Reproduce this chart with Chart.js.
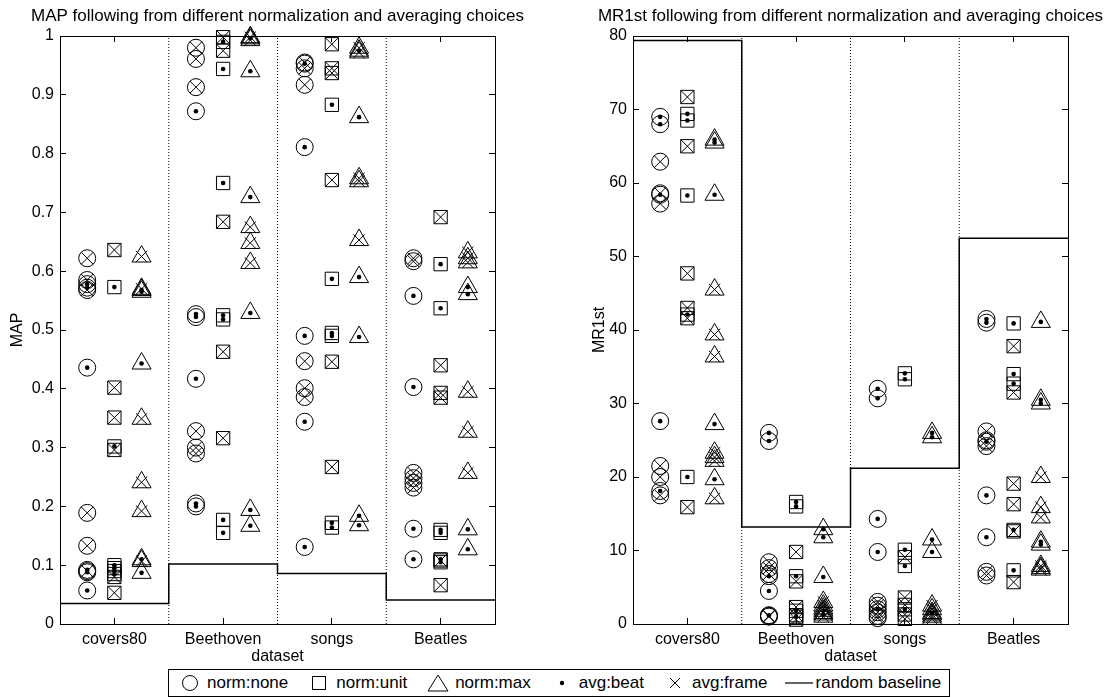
<!DOCTYPE html>
<html>
<head>
<meta charset="utf-8">
<script src="https://cdn.jsdelivr.net/npm/chart.js@4.4.0/dist/chart.umd.min.js"></script>
<style>
  html, body { margin: 0; width: 1109px; height: 697px; overflow: hidden; background: #fff;
         font-family: "Liberation Sans", Arial, sans-serif; }
  #left  { position: absolute; left: 0;     top: 0; width: 555px; height: 668px; }
  #right { position: absolute; left: 555px; top: 0; width: 591px; height: 668px; }
  #legend { position: absolute; left: 168px; top: 669px; border: 1px solid #000;
            display: flex; align-items: center; padding: 0 8px 0 6px; font-size: 17px; color: #000;
            box-sizing: border-box; height: 28px; }
  #legend .it { display: flex; align-items: center; margin-right: 16px; white-space: nowrap; }
  #legend .it:last-child { margin-right: 0; }
  #legend svg { width: 30px; height: 20px; margin-right: 2px; }
</style>
</head>
<body>
<div id="left"><canvas id="mapChart"></canvas></div>
<div id="right"><canvas id="mrChart"></canvas></div>
<div id="legend">
  <span class="it"><svg viewBox="0 0 30 20"><circle cx="15" cy="10" r="7.5" fill="none" stroke="#000" stroke-width="1"/></svg>norm:none</span>
  <span class="it"><svg viewBox="0 0 30 20"><rect x="8.5" y="3.5" width="13" height="13" fill="none" stroke="#000" stroke-width="1"/></svg>norm:unit</span>
  <span class="it"><svg viewBox="0 0 30 20"><polygon points="15,2 25,18 5,18" fill="none" stroke="#000" stroke-width="1"/></svg>norm:max</span>
  <span class="it"><svg viewBox="0 0 30 20"><circle cx="15" cy="10" r="2.2" fill="#000"/></svg>avg:beat</span>
  <span class="it"><svg viewBox="0 0 30 20"><path d="M10 5 L20 15 M20 5 L10 15" stroke="#000" stroke-width="1"/></svg>avg:frame</span>
  <span class="it"><svg viewBox="0 0 30 20"><path d="M1 10 L29 10" stroke="#000" stroke-width="1.2"/></svg>random baseline</span>
</div>
<script>
var categories = ['covers80', 'Beethoven', 'songs', 'Beatles'];

// MAP values, one list per dataset (covers80, Beethoven, songs, Beatles)
var mapNoneBeat  = [[0.578, 0.572, 0.436, 0.092, 0.088, 0.057], [0.872, 0.527, 0.522, 0.417, 0.205, 0.200], [0.953, 0.811, 0.490, 0.344, 0.131], [0.558, 0.403, 0.162, 0.110]];
var mapNoneFrame = [[0.622, 0.585, 0.568, 0.189, 0.133, 0.090], [0.980, 0.961, 0.913, 0.328, 0.300, 0.290], [0.955, 0.945, 0.917, 0.447, 0.401, 0.386], [0.622, 0.617, 0.257, 0.248, 0.240, 0.232]];
var mapUnitBeat  = [[0.573, 0.302, 0.100, 0.095, 0.090, 0.085], [0.990, 0.944, 0.750, 0.525, 0.518, 0.177, 0.155], [0.883, 0.587, 0.495, 0.490, 0.172, 0.164], [0.612, 0.537, 0.160, 0.155, 0.110, 0.105]];
var mapUnitFrame = [[0.636, 0.402, 0.351, 0.296, 0.080, 0.053], [0.998, 0.975, 0.684, 0.463, 0.316], [0.986, 0.945, 0.937, 0.755, 0.446, 0.267], [0.692, 0.440, 0.393, 0.385, 0.108, 0.066]];
var mapMaxBeat   = [[0.568, 0.565, 0.443, 0.110, 0.087], [0.996, 0.940, 0.726, 0.529, 0.194, 0.167], [0.975, 0.862, 0.590, 0.488, 0.184, 0.168], [0.573, 0.561, 0.161, 0.127]];
var mapMaxFrame  = [[0.625, 0.570, 0.349, 0.241, 0.192, 0.107], [0.998, 0.993, 0.675, 0.648, 0.614], [0.980, 0.972, 0.758, 0.753, 0.653], [0.632, 0.622, 0.615, 0.395, 0.327, 0.257]];
var mapBaseline  = [0.035, 0.102, 0.086, 0.041];

// MR1st values
var mrNoneBeat  = [[69.0, 68.0, 58.4, 27.6, 18.1], [26.0, 24.9, 6.5, 4.5, 1.2], [32.0, 30.7, 14.3, 9.8, 2.0], [41.5, 41.0, 24.8, 17.5, 11.8]];
var mrNoneFrame = [[62.9, 58.6, 57.2, 21.5, 20.0, 17.5], [8.4, 7.6, 6.8, 1.1, 1.0], [3.0, 2.5, 1.6, 1.1, 0.8], [26.2, 25.0, 24.2, 7.1, 6.6]];
var mrUnitBeat  = [[69.4, 68.5, 58.3, 42.1, 20.0], [16.6, 16.0, 6.5, 1.8, 1.0], [34.1, 33.3, 10.1, 7.9, 2.0], [40.9, 34.0, 32.7, 12.8, 7.3]];
var mrUnitFrame = [[71.7, 65.0, 47.7, 43.0, 41.6, 15.9], [9.8, 5.8, 2.3, 1.2, 0.6], [9.1, 3.6, 2.6, 1.3, 0.7], [37.8, 31.5, 19.1, 16.3, 12.6, 5.7]];
var mrMaxBeat   = [[65.9, 65.5, 58.4, 27.2, 19.7], [12.9, 11.8, 6.4, 1.8, 1.3], [26.0, 25.4, 11.5, 9.8, 1.5], [41.1, 30.5, 30.0, 11.2, 10.8]];
var mrMaxFrame  = [[45.5, 39.4, 36.4, 23.3, 22.7, 22.2, 17.1], [3.0, 2.5, 2.1, 1.5, 1.0], [2.5, 2.0, 1.3, 1.0, 0.7], [20.0, 15.9, 14.5, 7.9, 7.6, 7.4]];
var mrBaseline  = [79.4, 13.2, 21.2, 52.5];

var yTicksMap = [0, 0.1, 0.2, 0.3, 0.4, 0.5, 0.6, 0.7, 0.8, 0.9, 1];
var yTicksMr  = [0, 10, 20, 30, 40, 50, 60, 70, 80];

Chart.defaults.font.family = '"Liberation Sans", Arial, sans-serif';
Chart.defaults.color = '#000';

// x offset of each normalization column inside a dataset slot
var normOffset = [-0.25, 0, 0.25];
var normShape = [
  { style: 'circle',   r: 8.5, cross: 8.5 },
  { style: 'rect',     r: 9.4, cross: 9.4 },
  { style: 'triangle', r: 11,  cross: 8 }
];

function toPoints(lists, norm) {
  var out = [];
  lists.forEach(function(vals, ci) {
    vals.forEach(function(v) { out.push({ x: ci + 1 + normOffset[norm], y: v }); });
  });
  return out;
}

function markerSets(groups) {
  // groups: [[beat, frame] for none, unit, max]
  var sets = [];
  groups.forEach(function(g, n) {
    var sh = normShape[n];
    [0, 1].forEach(function(a) {
      var pts = toPoints(g[a], n);
      sets.push({
        data: pts, pointStyle: sh.style, pointRadius: sh.r,
        pointBorderColor: '#000', pointBackgroundColor: 'rgba(0,0,0,0)',
        pointBorderWidth: 1, showLine: false, clip: false
      });
      if (a === 0) {
        sets.push({
          data: pts, pointStyle: 'circle', pointRadius: 2.3,
          pointBorderColor: '#000', pointBackgroundColor: '#000',
          pointBorderWidth: 0, showLine: false, clip: false
        });
      } else {
        sets.push({
          data: pts, pointStyle: 'crossRot', pointRadius: sh.cross,
          pointBorderColor: '#000', pointBorderWidth: 1, showLine: false, clip: false
        });
      }
    });
  });
  return sets;
}

function baselineSet(vals) {
  var pts = vals.map(function(v, i) { return { x: i + 0.5, y: v }; });
  pts.push({ x: vals.length + 0.5, y: vals[vals.length - 1] });
  return { type: 'line', data: pts, stepped: true, borderColor: '#000', borderWidth: 1.5,
           pointRadius: 0, fill: false, showLine: true, clip: false };
}

function separatorSet(yMax) {
  var pts = [];
  for (var i = 1; i < categories.length; i++) {
    pts.push({ x: i + 0.5, y: 0 }, { x: i + 0.5, y: yMax }, { x: i + 0.5, y: null });
  }
  return { type: 'line', data: pts, borderColor: '#000', borderWidth: 1, borderDash: [1, 2],
           pointRadius: 0, fill: false, showLine: true, spanGaps: false };
}

function makePanel(id, opt) {
  var yTicks = opt.ticks;
  var yMax = yTicks[yTicks.length - 1];
  var catTicks = function(s) { s.ticks = categories.map(function(c, i) { return { value: i + 1 }; }); };
  var yTickSet = function(s) { s.ticks = yTicks.map(function(v) { return { value: v }; }); };
  var grid = { drawOnChartArea: false, drawTicks: true, tickLength: -6, color: '#000', lineWidth: 1 };
  var border = { display: true, color: '#000', width: 1 };
  return new Chart(document.getElementById(id), {
    type: 'scatter',
    data: { datasets: [baselineSet(opt.baseline), separatorSet(yMax)].concat(markerSets(opt.groups)) },
    options: {
      responsive: true, maintainAspectRatio: false, animation: false, events: [],
      layout: { padding: 0 },
      plugins: {
        legend: { display: false }, tooltip: { enabled: false },
        title: { display: true, text: opt.title, color: '#000', font: { size: 17, weight: 'normal' },
                 padding: { top: 6, bottom: 2 } }
      },
      scales: {
        x: {
          type: 'linear', position: 'bottom', min: 0.5, max: categories.length + 0.5,
          afterBuildTicks: catTicks,
          afterFit: function(s) { s.height = 44; },
          ticks: { autoSkip: false, maxRotation: 0, padding: 12, font: { size: 16 },
                   callback: function(v) { return categories[v - 1]; } },
          grid: grid, border: border,
          title: { display: true, text: 'dataset', font: { size: 16 }, padding: { top: 0, bottom: 2 } }
        },
        xT: {
          type: 'linear', position: 'top', min: 0.5, max: categories.length + 0.5,
          afterBuildTicks: catTicks,
          afterFit: function(s) { s.height = 7.6; },
          ticks: { display: false },
          grid: grid, border: border
        },
        y: {
          type: 'linear', position: 'left', min: 0, max: yMax,
          afterBuildTicks: yTickSet,
          afterFit: function(s) { s.width = opt.leftW; },
          ticks: { padding: 12, font: { size: 16 },
                   callback: function(v) { return String(+v.toFixed(2)); } },
          grid: grid, border: border,
          title: { display: true, text: opt.ylabel, font: { size: 16 }, padding: { top: opt.ytitlePad, bottom: 0 } }
        },
        yR: {
          type: 'linear', position: 'right', min: 0, max: yMax,
          afterBuildTicks: yTickSet,
          afterFit: function(s) { s.width = opt.rightW; },
          ticks: { display: false },
          grid: grid, border: border
        }
      }
    }
  });
}

makePanel('mapChart', {
  title: 'MAP following from different normalization and averaging choices',
  ylabel: 'MAP', ticks: yTicksMap, baseline: mapBaseline,
  groups: [[mapNoneBeat, mapNoneFrame], [mapUnitBeat, mapUnitFrame], [mapMaxBeat, mapMaxFrame]],
  leftW: 60, rightW: 60, ytitlePad: 8
});

makePanel('mrChart', {
  title: 'MR1st following from different normalization and averaging choices',
  ylabel: 'MR1st', ticks: yTicksMr, baseline: mrBaseline,
  groups: [[mrNoneBeat, mrNoneFrame], [mrUnitBeat, mrUnitFrame], [mrMaxBeat, mrMaxFrame]],
  leftW: 78, rightW: 78, ytitlePad: 35
});
</script>
</body>
</html>
